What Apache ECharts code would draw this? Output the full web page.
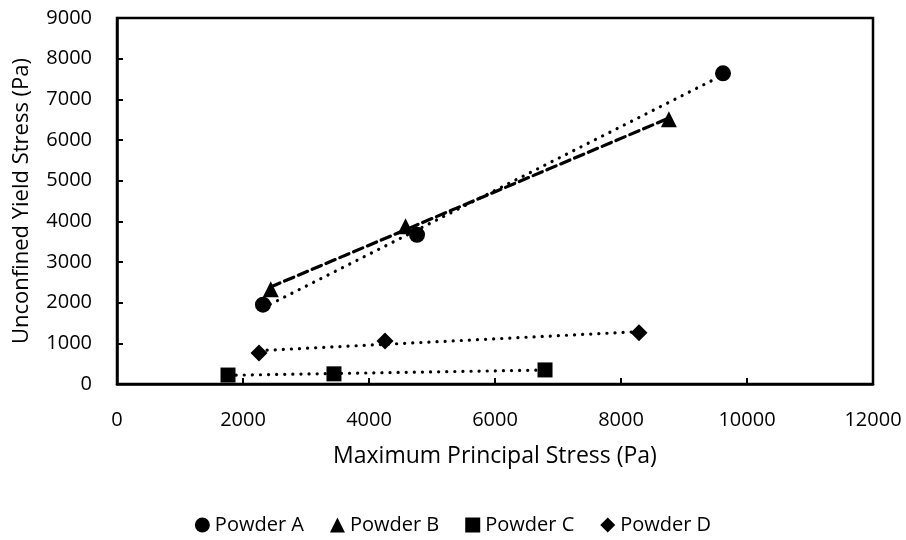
<!DOCTYPE html>
<html>
<head>
<meta charset="utf-8">
<script src="https://cdn.jsdelivr.net/npm/echarts@6/dist/echarts.min.js"></script>
<style>html,body{margin:0;padding:0;background:#fff}#c{width:906px;height:540px}</style>
</head>
<body>
<div id="c"></div>
<script>
var seriesNames = ['Powder A', 'Powder B', 'Powder C', 'Powder D'];
var powderA = [[2317, 1950], [4762, 3670], [9619, 7640]];
var powderB = [[2440, 2330], [4580, 3880], [8760, 6510]];
var powderC = [[1762, 220], [3444, 250], [6794, 346]];
var powderD = [[2254, 765], [4254, 1060], [8286, 1260]];
var xTicks = [0, 2000, 4000, 6000, 8000, 10000, 12000];
var yTicks = [0, 1000, 2000, 3000, 4000, 5000, 6000, 7000, 8000, 9000];

function trend(pts) {
  var n = pts.length, sx = 0, sy = 0, sxx = 0, sxy = 0;
  pts.forEach(function (p) { sx += p[0]; sy += p[1]; sxx += p[0] * p[0]; sxy += p[0] * p[1]; });
  var b = (n * sxy - sx * sy) / (n * sxx - sx * sx), a = (sy - b * sx) / n;
  var xs = pts.map(function (p) { return p[0]; });
  var x0 = Math.min.apply(null, xs), x1 = Math.max.apply(null, xs);
  return [[x0, a + b * x0], [x1, a + b * x1]];
}

var font = '"Open Sans", "Noto Sans", sans-serif';
var datasets = [powderA, powderB, powderC, powderD];
var symbols = ['circle', 'triangle', 'rect', 'diamond'];
var sizes = [16, 16, 15, 17];
var dashes = [[0.1, 8], [10, 5], [0.1, 8], [0.1, 8]];

var series = [];
datasets.forEach(function (d, i) {
  series.push({
    name: seriesNames[i] + ' trend', type: 'line', data: trend(d), symbol: 'none', silent: true,
    lineStyle: { color: '#000', width: 3.2, type: dashes[i], cap: 'round' }, z: 2
  });
});
datasets.forEach(function (d, i) {
  series.push({
    name: seriesNames[i], type: 'scatter', data: d, symbol: symbols[i], symbolSize: sizes[i],
    itemStyle: { color: '#000', opacity: 1 }, z: 3
  });
});

function plain(v) { return String(v); }

var chart = echarts.init(document.getElementById('c'));
chart.setOption({
  animation: false,
  backgroundColor: '#fff',
  grid: { left: 117, right: 33, top: 18, bottom: 156, show: true, borderColor: '#000', borderWidth: 2.5 },
  xAxis: {
    type: 'value', min: xTicks[0], max: xTicks[xTicks.length - 1], interval: 2000,
    name: 'Maximum Principal Stress (Pa)', nameLocation: 'middle', nameGap: 61,
    nameTextStyle: { fontFamily: font, fontSize: 23, color: '#000' },
    axisLine: { lineStyle: { color: '#000', width: 2.5 } },
    axisTick: { inside: true, length: 6, lineStyle: { color: '#000', width: 2 } },
    axisLabel: { fontFamily: font, fontSize: 20, color: '#000', margin: 26, formatter: plain },
    splitLine: { show: false }
  },
  yAxis: {
    type: 'value', min: yTicks[0], max: yTicks[yTicks.length - 1], interval: 1000,
    name: 'Unconfined Yield Stress (Pa)', nameLocation: 'middle', nameGap: 84,
    nameTextStyle: { fontFamily: font, fontSize: 22, color: '#000' },
    axisLine: { lineStyle: { color: '#000', width: 2.5 } },
    axisTick: { inside: true, length: 6, lineStyle: { color: '#000', width: 2 } },
    axisLabel: { fontFamily: font, fontSize: 20, color: '#000', margin: 25, formatter: plain },
    splitLine: { show: false }
  },
  legend: {
    data: seriesNames, bottom: 0, left: 'center', itemGap: 26, itemWidth: 15, itemHeight: 15,
    textStyle: { fontFamily: font, fontSize: 20, color: '#000' },
    itemStyle: { opacity: 1 }
  },
  series: series
});
</script>
</body>
</html>
